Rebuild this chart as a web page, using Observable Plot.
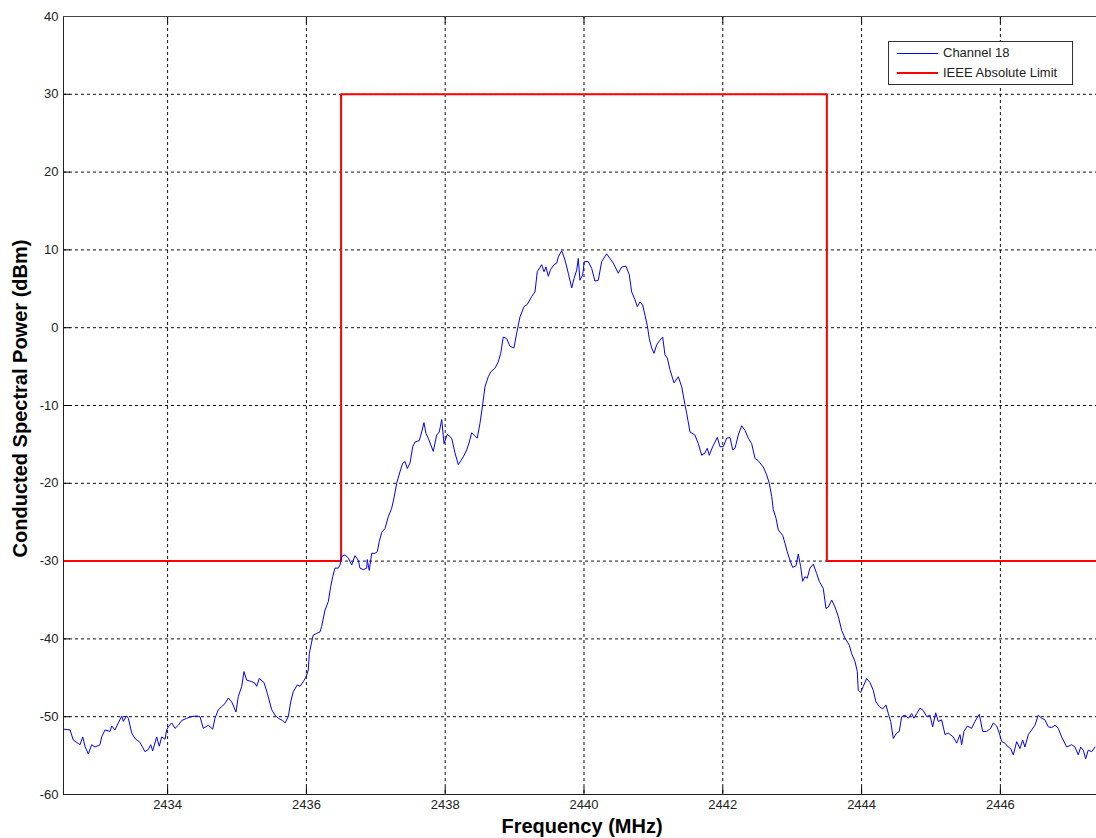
<!DOCTYPE html>
<html>
<head>
<meta charset="utf-8">
<script src="https://cdn.jsdelivr.net/npm/d3@7"></script>
<script src="https://cdn.jsdelivr.net/npm/@observablehq/plot@0.6"></script>
<style>
  body { margin: 0; background: #fff; }
  #wrap { position: relative; width: 1096px; height: 838px; }
  #legend { position: absolute; left: 888px; top: 41px; width: 183px; height: 42px; border: 1px solid #333; background: #fff;
            font-family: "Liberation Sans", Arial, sans-serif; font-size: 13px; color: #222; }
  #legend svg { position: absolute; left: 0; top: 0; }
  .lt { position: absolute; left: 54px; line-height: 16px; white-space: nowrap; }
</style>
</head>
<body>
<div id="wrap">
  <div id="chart"></div>
  <div id="legend">
    <svg width="60" height="42"><line x1="8" x2="49" y1="11.5" y2="11.5" stroke="#0000ff" stroke-width="1"/><line x1="8" x2="49" y1="31" y2="31" stroke="#ff0000" stroke-width="2"/></svg>
    <div class="lt" style="top:3px">Channel 18</div>
    <div class="lt" style="top:23px">IEEE Absolute Limit</div>
  </div>
</div>
<script>
// Channel 18 measured trace (MHz, dBm)
const channelFreq = [
2432.497,2432.594,2432.641,2432.738,2432.777,2432.810,2432.857,2432.906,2432.954,2433.026,2433.050,2433.098,2433.170,2433.195,2433.242,2433.290,2433.339,2433.362,2433.411,2433.434,2433.483,2433.530,2433.602,2433.674,2433.722,2433.757,2433.785,2433.843,2433.880,2433.915,2433.963,2433.987,2434.010,2434.059,2434.107,2434.154,2434.203,2434.275,2434.347,2434.419,2434.467,2434.514,2434.586,2434.650,2434.683,2434.731,2434.780,2434.827,2434.875,2434.924,2434.986,2435.019,2435.068,2435.101,2435.140,2435.212,2435.259,2435.284,2435.321,2435.389,2435.437,2435.500,2435.548,2435.595,2435.659,2435.692,2435.739,2435.774,2435.811,2435.869,2435.908,2435.955,2435.994,2436.027,2436.042,2436.076,2436.099,2436.148,2436.196,2436.220,2436.268,2436.316,2436.350,2436.379,2436.412,2436.460,2436.484,2436.509,2436.556,2436.604,2436.653,2436.700,2436.748,2436.772,2436.820,2436.869,2436.877,2436.906,2436.941,2436.988,2437.022,2437.050,2437.085,2437.133,2437.180,2437.229,2437.262,2437.301,2437.349,2437.388,2437.421,2437.454,2437.493,2437.532,2437.565,2437.627,2437.661,2437.694,2437.723,2437.756,2437.828,2437.877,2437.915,2437.950,2437.983,2438.030,2438.094,2438.141,2438.189,2438.261,2438.310,2438.347,2438.382,2438.429,2438.462,2438.501,2438.540,2438.573,2438.621,2438.655,2438.717,2438.765,2438.800,2438.837,2438.886,2438.934,2438.991,2439.030,2439.078,2439.135,2439.183,2439.246,2439.294,2439.327,2439.390,2439.424,2439.452,2439.486,2439.520,2439.568,2439.607,2439.630,2439.679,2439.726,2439.774,2439.823,2439.856,2439.895,2439.918,2439.942,2439.981,2440.004,2440.062,2440.111,2440.158,2440.206,2440.255,2440.327,2440.374,2440.422,2440.494,2440.543,2440.605,2440.653,2440.687,2440.735,2440.768,2440.807,2440.846,2440.879,2440.912,2440.941,2440.975,2441.009,2441.047,2441.095,2441.134,2441.167,2441.200,2441.239,2441.297,2441.359,2441.408,2441.455,2441.480,2441.527,2441.599,2441.647,2441.696,2441.743,2441.777,2441.805,2441.854,2441.888,2441.921,2441.960,2442.007,2442.056,2442.104,2442.143,2442.176,2442.223,2442.272,2442.320,2442.367,2442.416,2442.464,2442.511,2442.583,2442.632,2442.670,2442.705,2442.728,2442.767,2442.800,2442.863,2442.896,2442.929,2442.968,2443.007,2443.055,2443.088,2443.122,2443.151,2443.184,2443.217,2443.256,2443.304,2443.353,2443.390,2443.448,2443.487,2443.520,2443.569,2443.617,2443.664,2443.713,2443.761,2443.823,2443.857,2443.905,2443.938,2443.952,2443.987,2444.024,2444.073,2444.121,2444.168,2444.207,2444.255,2444.304,2444.351,2444.385,2444.419,2444.457,2444.506,2444.543,2444.578,2444.625,2444.673,2444.722,2444.755,2444.794,2444.841,2444.889,2444.938,2444.985,2445.024,2445.068,2445.105,2445.154,2445.202,2445.249,2445.321,2445.370,2445.418,2445.442,2445.475,2445.523,2445.586,2445.634,2445.696,2445.745,2445.802,2445.860,2445.898,2445.947,2445.984,2446.019,2446.066,2446.114,2446.148,2446.186,2446.235,2446.282,2446.321,2446.354,2446.402,2446.451,2446.498,2446.546,2446.595,2446.642,2446.690,2446.739,2446.787,2446.834,2446.883,2446.955,2447.027,2447.075,2447.122,2447.157,2447.194,2447.229,2447.266,2447.315,2447.363
];
const channelPower = [
-51.6,-51.7,-53.0,-53.6,-52.6,-53.8,-54.8,-53.6,-53.9,-53.6,-52.6,-51.7,-51.9,-51.2,-51.7,-50.8,-49.9,-50.6,-49.9,-50.2,-52.1,-52.8,-53.3,-54.5,-54.2,-53.6,-54.4,-52.6,-53.8,-52.6,-52.9,-51.7,-51.3,-50.8,-51.5,-51.1,-50.5,-50.2,-50.0,-49.9,-50.0,-51.5,-51.1,-51.6,-50.2,-49.1,-48.7,-48.3,-47.6,-48.1,-49.4,-47.4,-46.1,-44.2,-45.3,-45.5,-45.7,-46.1,-45.1,-45.6,-47.0,-49.1,-49.8,-50.2,-50.5,-50.8,-50.0,-48.1,-46.8,-45.9,-46.1,-45.5,-44.9,-44.0,-41.9,-40.4,-39.5,-39.3,-39.1,-38.4,-36.3,-35.2,-33.3,-32.0,-30.9,-30.9,-30.5,-29.4,-29.2,-29.6,-30.5,-29.3,-29.9,-30.9,-31.1,-30.9,-29.8,-31.2,-29.0,-29.0,-28.8,-27.5,-26.3,-25.8,-24.3,-23.2,-21.9,-20.0,-18.5,-17.4,-17.2,-18.1,-17.4,-15.3,-14.7,-14.5,-13.4,-12.2,-13.6,-14.2,-15.9,-13.8,-13.4,-11.8,-14.9,-13.7,-14.2,-16.1,-17.6,-16.6,-15.7,-14.7,-13.5,-13.9,-14.2,-12.3,-9.9,-7.6,-6.3,-5.7,-5.2,-4.4,-3.3,-1.2,-1.4,-2.4,-2.6,-0.7,1.4,2.7,3.0,4.0,4.6,7.2,8.1,7.2,7.8,6.6,7.5,8.1,8.3,9.1,9.9,8.7,7.0,5.1,6.3,7.4,8.9,6.1,6.8,8.5,8.5,7.6,6.0,6.1,8.5,9.5,8.9,8.3,7.0,7.8,7.9,6.8,4.6,3.6,2.7,3.3,2.9,1.6,0.3,-1.4,-2.6,-3.3,-2.2,-1.6,-1.2,-3.5,-3.9,-5.4,-7.1,-6.3,-7.6,-9.9,-11.0,-13.4,-13.8,-14.9,-16.4,-16.1,-15.5,-16.4,-15.3,-14.7,-14.1,-15.3,-15.3,-14.2,-14.1,-15.7,-15.5,-13.8,-12.6,-13.2,-14.2,-14.9,-16.8,-17.1,-17.9,-18.9,-20.0,-21.7,-23.4,-24.5,-26.0,-26.7,-27.7,-28.8,-29.9,-30.8,-30.6,-29.1,-30.7,-32.6,-32.0,-32.2,-30.9,-30.4,-31.6,-32.6,-33.5,-36.1,-35.9,-35.0,-35.9,-37.1,-38.9,-39.9,-40.8,-41.9,-42.9,-44.2,-46.6,-46.9,-46.1,-45.1,-45.6,-46.6,-48.1,-48.7,-49.0,-48.5,-49.6,-50.6,-52.8,-52.1,-51.9,-50.0,-49.8,-50.2,-49.6,-50.2,-49.6,-48.9,-49.2,-50.0,-49.8,-51.3,-49.5,-50.6,-50.4,-52.3,-52.1,-52.6,-53.4,-52.3,-53.6,-51.9,-51.2,-51.5,-50.6,-49.7,-51.9,-51.9,-51.5,-50.8,-51.2,-52.1,-53.2,-53.4,-53.9,-54.1,-54.9,-53.2,-54.1,-53.0,-53.9,-52.3,-51.7,-51.1,-49.8,-50.2,-50.4,-51.3,-51.4,-51.1,-51.5,-52.6,-53.9,-53.6,-53.9,-54.9,-53.9,-54.3,-55.4,-54.3,-54.5,-53.9
];
// IEEE absolute limit mask
const limitFreq = [2432.5, 2436.5, 2436.5, 2443.5, 2443.5, 2447.5];
const limitPower = [-30, -30, 30, 30, -30, -30];
// Axis ticks
const xTicks = [2434, 2436, 2438, 2440, 2442, 2444, 2446];
const yTicks = [-60, -50, -40, -30, -20, -10, 0, 10, 20, 30, 40];
const yGrid = [-50, -40, -30, -20, -10, 0, 10, 20, 30];
const xDomain = [2432.5, 2447.385];
const yDomain = [-60, 40];

const channel = channelFreq.map((f, i) => ({f, p: channelPower[i]}));
const limit = limitFreq.map((f, i) => ({f, p: limitPower[i]}));
const fmt = d => String(d);

const chart = Plot.plot({
  width: 1096,
  height: 838,
  marginLeft: 63,
  marginRight: 0,
  marginTop: 16,
  marginBottom: 44,
  style: {fontFamily: "'Liberation Sans', Arial, sans-serif", fontSize: "13px", color: "#222", background: "#fff"},
  x: {domain: xDomain, ticks: xTicks, tickFormat: fmt, label: null},
  y: {domain: yDomain, ticks: yTicks, tickFormat: fmt, label: null},
  marks: [
    Plot.ruleX(xTicks, {stroke: "#111", strokeDasharray: "3,3", strokeWidth: 1}),
    Plot.ruleY(yGrid, {stroke: "#111", strokeDasharray: "3,3", strokeWidth: 1}),
    Plot.tickY(yTicks, {y: d => d, stroke: "#000", insetRight: 1026}),
    Plot.tickX(xTicks, {x: d => d, stroke: "#000", insetTop: 771}),
    Plot.tickX(xTicks, {x: d => d, stroke: "#000", insetBottom: 771}),
    Plot.line(limit, {x: "f", y: "p", stroke: "#ff0000", strokeWidth: 2, clip: true}),
    Plot.line(channel, {x: "f", y: "p", stroke: "#0000ff", strokeWidth: 1, clip: true}),
    Plot.ruleX([xDomain[0]], {stroke: "#222"}),
    Plot.ruleY([yDomain[0]], {stroke: "#222"}),
    Plot.ruleY([yDomain[1]], {stroke: "#444"}),
    Plot.axisX(xTicks, {tickSize: 0, tickPadding: 5, fontSize: 13, label: null, tickFormat: fmt}),
    Plot.axisY(yTicks, {tickSize: 0, tickPadding: 5, fontSize: 13, label: null, tickFormat: fmt}),
    Plot.text(["Frequency (MHz)"], {frameAnchor: "bottom", textAnchor: "middle", dx: 2, dy: 38, fontSize: 20, fontWeight: "bold", fill: "#000"}),
    Plot.text(["Conducted Spectral Power (dBm)"], {frameAnchor: "left", textAnchor: "middle", dx: -43, dy: -7, rotate: -90, fontSize: 20, fontWeight: "bold", fill: "#000"})
  ]
});
document.getElementById("chart").appendChild(chart);
</script>
</body>
</html>
